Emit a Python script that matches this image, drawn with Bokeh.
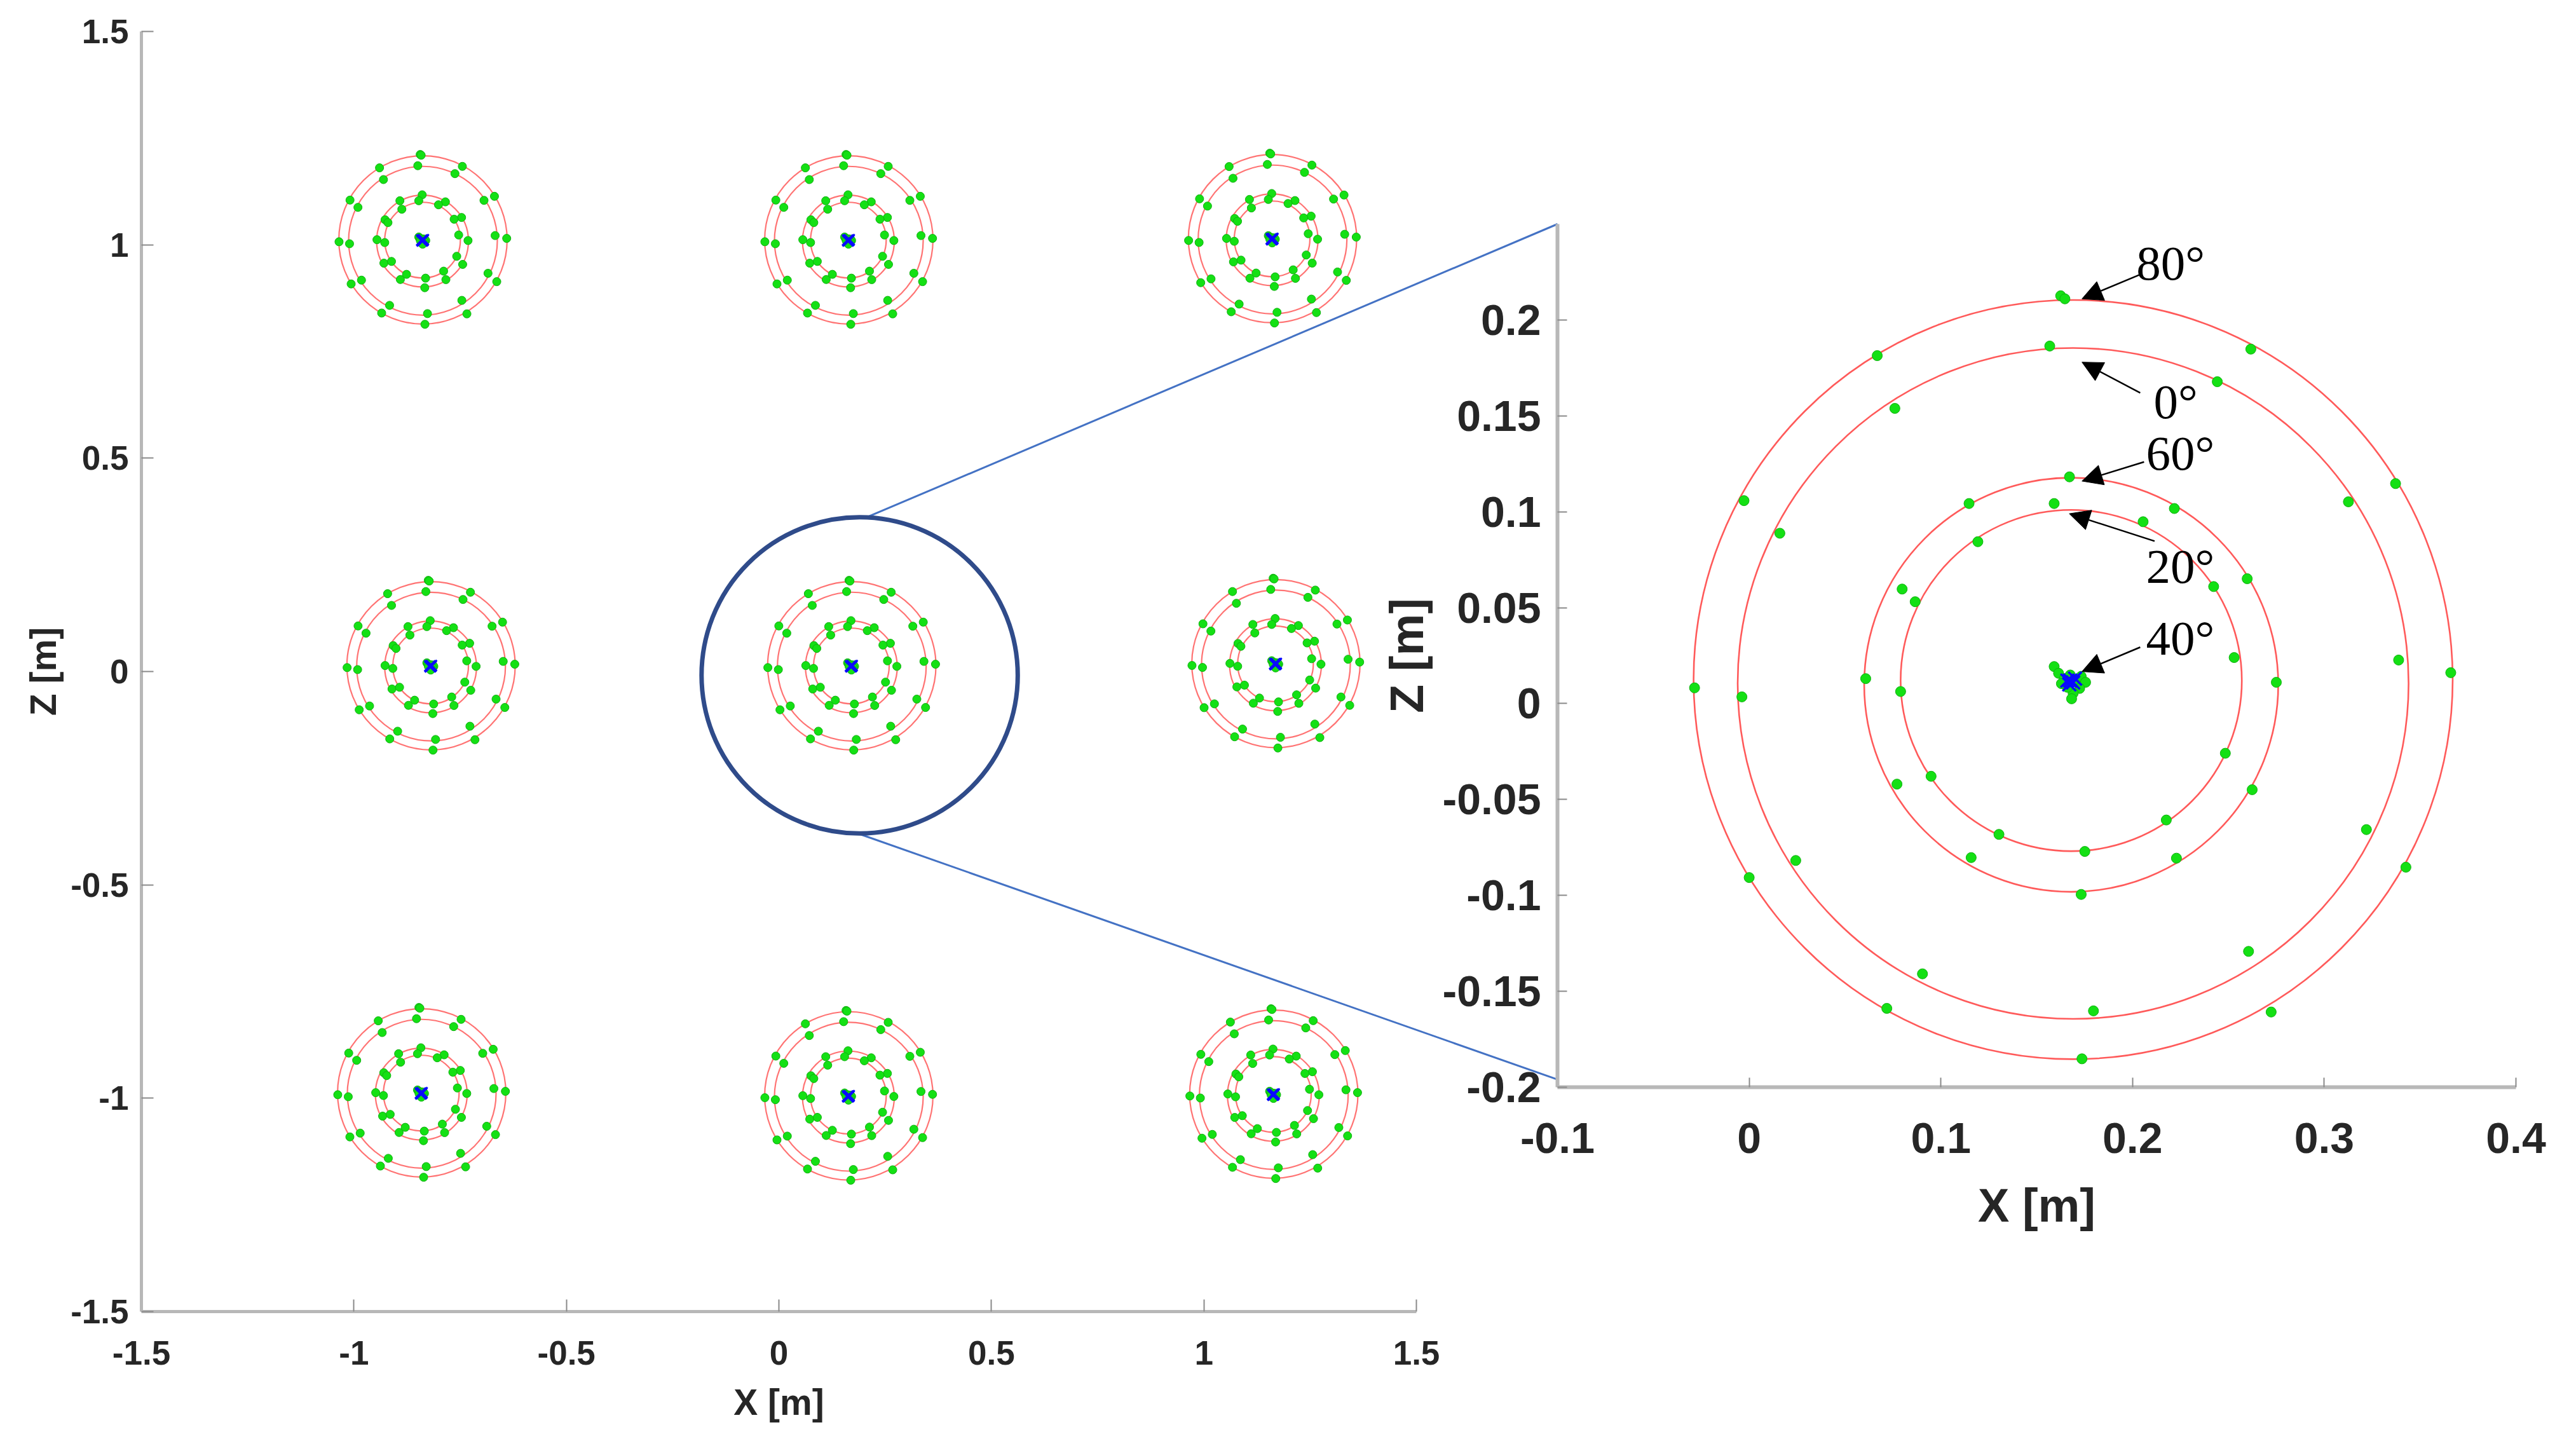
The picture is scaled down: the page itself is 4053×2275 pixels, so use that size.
import numpy as np
from bokeh.plotting import figure
from bokeh.models import Range1d, LinearAxis, Arrow, NormalHead, ColumnDataSource, FixedTicker
from bokeh.core.properties import value
from bokeh.embed import file_html
from bokeh.resources import INLINE

# ---------------- data ----------------
# centres of the nine target groups in the overview [m]
group_x = [-0.839, 0.163, 1.160, -0.820, 0.170, 1.168, -0.842, 0.163, 1.163]
group_z = [1.011, 1.011, 1.014, 0.013, 0.013, 0.018, -0.988, -0.995, -0.991]

# zoomed (centre) group: fitted circles per tilt angle
ring_angle = ["80°", "0°", "60°", "20°"]
ring_r = [0.198, 0.175, 0.108, 0.089]
ring_x = [0.169, 0.169, 0.168, 0.168]
ring_z = [0.0125, 0.0105, 0.0098, 0.0120]

# measured points of the zoomed group, per tilt angle
p80_x = [0.1625, 0.1647, 0.2617, 0.3372, 0.3660, 0.3426, 0.2723, 0.1736, 0.0718, 0.0000, -0.0285, -0.0027, 0.0668]
p80_z = [0.2126, 0.2110, 0.1848, 0.1147, 0.0161, -0.0853, -0.1608, -0.1852, -0.1589, -0.0907, 0.0082, 0.1058, 0.1814]
p0_x = [0.1568, 0.2442, 0.3126, 0.3388, 0.3220, 0.2605, 0.1796, 0.0904, 0.0243, -0.0038, 0.0160, 0.0760]
p0_z = [0.1864, 0.1678, 0.1052, 0.0227, -0.0657, -0.1292, -0.1602, -0.1409, -0.0818, 0.0035, 0.0888, 0.1539]
p60_x = [0.1671, 0.2218, 0.2598, 0.2750, 0.2624, 0.2229, 0.1732, 0.1158, 0.0771, 0.0608, 0.0798, 0.1147]
p60_z = [0.1182, 0.1017, 0.0651, 0.0111, -0.0449, -0.0806, -0.0995, -0.0803, -0.0420, 0.0130, 0.0597, 0.1043]
p20_x = [0.1591, 0.2055, 0.2423, 0.2530, 0.2484, 0.2176, 0.1751, 0.1303, 0.0949, 0.0790, 0.0866, 0.1193]
p20_z = [0.1043, 0.0948, 0.0610, 0.0240, -0.0259, -0.0607, -0.0771, -0.0682, -0.0379, 0.0063, 0.0531, 0.0844]
p40_x = [0.1591, 0.1614, 0.1645, 0.1675, 0.1705, 0.1732, 0.1755, 0.1724, 0.1690, 0.1660, 0.1629, 0.1682]
p40_z = [0.0193, 0.0158, 0.0130, 0.0149, 0.0120, 0.0142, 0.0111, 0.0079, 0.0054, 0.0085, 0.0104, 0.0025]

# estimated target centres (blue crosses), zoomed group
ctr_x = [0.1675, 0.1690, 0.1670, 0.1700, 0.1660]
ctr_z = [0.0120, 0.0110, 0.0100, 0.0130, 0.0120]

# angle annotations in the zoomed view
ann_text = ["80°", "0°", "60°", "20°", "40°"]
ann_x = [0.202, 0.211, 0.207, 0.207, 0.207]
ann_z = [0.2297, 0.1573, 0.1305, 0.0717, 0.0341]
arr_x0 = [0.204, 0.204, 0.206, 0.2115, 0.204]
arr_z0 = [0.2237, 0.162, 0.126, 0.0847, 0.0294]
arr_x1 = [0.1736, 0.1736, 0.1736, 0.1670, 0.1736]
arr_z1 = [0.211, 0.178, 0.116, 0.099, 0.0167]

# zoom call-out: circle in overview, lines to zoomed axes corners
zoom_cx, zoom_cz, zoom_r = 0.190, -0.009, 0.372
callout_x0 = [0.208, 0.190]
callout_z0 = [0.362, -0.381]
callout_zx1 = [-0.1, -0.1]
callout_zz1 = [0.25, -0.196]

ov_ticks = [-1.5, -1, -0.5, 0, 0.5, 1, 1.5]
zx_ticks = [-0.1, 0, 0.1, 0.2, 0.3, 0.4]
zz_ticks = [-0.2, -0.15, -0.1, -0.05, 0, 0.05, 0.1, 0.15, 0.2]

# ---------------- layout (page pixels) ----------------
FX0, FY0 = 8, 8
FW, FH = 4030, 2255
FX1, FY1 = FX0 + FW, FY0 + FH


def span(pa, va, pb, vb, p_lo, p_hi):
    """value at pixel p_lo and p_hi for a linear mapping through (pa,va),(pb,vb)"""
    k = (vb - va) / (pb - pa)
    return va + (p_lo - pa) * k, va + (p_hi - pa) * k


# overview axes: x -1.5..1.5 at px 230..2236, z 1.5..-1.5 at px 57..2071
ox0, ox1 = span(230, -1.5, 2236, 1.5, FX0, FX1)
oy0, oy1 = span(2071, -1.5, 57, 1.5, FY1, FY0)
# zoomed axes: x -0.1..0.4 at px 2458..3966, z 0.25..-0.2 at px 360..1718
zx0, zx1 = span(2458, -0.1, 3966, 0.4, FX0, FX1)
zy0, zy1 = span(1718, -0.2, 360, 0.25, FY1, FY0)

RING = "#ff5a5a"
GREEN = "#14e014"
GREEN_EDGE = "#0fb00f"
BLUE = "#0a0aff"
FONT = "Liberation Sans"

p = figure(frame_width=FW, frame_height=FH,
           x_range=Range1d(ox0, ox1), y_range=Range1d(oy0, oy1),
           x_axis_location=None, y_axis_location=None,
           output_backend="svg", toolbar_location=None, min_border=0)
p.extra_x_ranges = {"zx": Range1d(zx0, zx1)}
p.extra_y_ranges = {"zy": Range1d(zy0, zy1)}
p.grid.visible = False
p.outline_line_color = None
p.background_fill_color = "white"
p.border_fill_color = "white"


def style_axis(ax, ticks, tick_font, tick_in, line_w, lbl_standoff, label, label_font, label_standoff):
    ax.ticker = FixedTicker(ticks=ticks)
    ax.major_label_overrides = {float(t): f"{t:g}" for t in ticks}
    ax.minor_tick_line_color = None
    ax.major_tick_in = tick_in
    ax.major_tick_out = 0
    ax.major_tick_line_color = "#8a8a8a"
    ax.major_tick_line_width = 2
    ax.axis_line_color = "#b8b8b8"
    ax.axis_line_width = line_w
    ax.major_label_text_font = FONT
    ax.major_label_text_font_style = "bold"
    ax.major_label_text_font_size = tick_font
    ax.major_label_text_color = "#262626"
    ax.major_label_standoff = lbl_standoff
    ax.axis_label = label
    ax.axis_label_text_font = FONT
    ax.axis_label_text_font_style = "bold"
    ax.axis_label_text_font_size = label_font
    ax.axis_label_text_color = "#262626"
    ax.axis_label_standoff = label_standoff


ovx = LinearAxis(fixed_location=-1.5, bounds=(-1.5, 1.5))
ovy = LinearAxis(fixed_location=-1.5, bounds=(-1.5, 1.5))
style_axis(ovx, ov_ticks, "53px", 19, 5, 46, "X [m]", "57px", 24)
style_axis(ovy, ov_ticks, "53px", 19, 5, 20, "Z [m]", "57px", 8)
p.add_layout(ovx, "below")
p.add_layout(ovy, "left")

zax = LinearAxis(x_range_name="zx", y_range_name="zy", fixed_location=-0.2, bounds=(-0.1, 0.4))
zay = LinearAxis(x_range_name="zx", y_range_name="zy", fixed_location=-0.1, bounds=(-0.2, 0.25))
style_axis(zax, zx_ticks, "68px", 15, 6, 56, "X [m]", "74px", 38)
style_axis(zay, zz_ticks, "68px", 15, 6, 26, "Z [m]", "74px", 12)
p.add_layout(zax, "below")
p.add_layout(zay, "left")

# ---------------- overview: nine groups ----------------
ref_x, ref_z = ctr_x[0], ctr_z[0]
all_px = p80_x + p0_x + p60_x + p20_x + p40_x
all_pz = p80_z + p0_z + p60_z + p20_z + p40_z
rel_px = np.array(all_px) - ref_x
rel_pz = np.array(all_pz) - ref_z

ov_ring_x, ov_ring_z, ov_ring_r = [], [], []
ov_pt_x, ov_pt_z = [], []
ov_ctr_x, ov_ctr_z = [], []
for gx, gz in zip(group_x, group_z):
    for rx, rz, rr in zip(ring_x, ring_z, ring_r):
        ov_ring_x.append(gx + rx - ref_x)
        ov_ring_z.append(gz + rz - ref_z)
        ov_ring_r.append(rr)
    ov_pt_x.extend(gx + rel_px)
    ov_pt_z.extend(gz + rel_pz)
    for cx, cz in zip(ctr_x, ctr_z):
        ov_ctr_x.append(gx + cx - ref_x)
        ov_ctr_z.append(gz + cz - ref_z)

p.circle(x=ov_ring_x, y=ov_ring_z, radius=ov_ring_r, fill_color=None,
         line_color=RING, line_width=2.2, line_alpha=0.85)
p.scatter(x=ov_pt_x, y=ov_pt_z, marker="circle", size=13, fill_color=GREEN,
          line_color=GREEN_EDGE, line_width=1)
p.scatter(x=ov_ctr_x, y=ov_ctr_z, marker="x", size=24, line_color=BLUE, line_width=3)

# ---------------- zoomed view ----------------
p.circle(x=ring_x, y=ring_z, radius=ring_r, fill_color=None, line_color=RING,
         line_width=2.6, x_range_name="zx", y_range_name="zy")
p.scatter(x=all_px, y=all_pz, marker="circle", size=16, fill_color=GREEN,
          line_color=GREEN_EDGE, line_width=1, x_range_name="zx", y_range_name="zy")
p.scatter(x=ctr_x, y=ctr_z, marker="x", size=30, line_color=BLUE, line_width=3.5,
          x_range_name="zx", y_range_name="zy")

arrow_src = ColumnDataSource(dict(x0=arr_x0, y0=arr_z0, x1=arr_x1, y1=arr_z1))
p.add_layout(Arrow(end=NormalHead(size=32, fill_color="black", line_color="black"),
                   x_start="x0", y_start="y0", x_end="x1", y_end="y1", source=arrow_src,
                   line_color="black", line_width=2.5,
                   x_range_name="zx", y_range_name="zy"))
p.text(x=ann_x, y=ann_z, text=ann_text, text_font=value("Liberation Serif"),
       text_font_size="77px", text_align="left", text_baseline="middle",
       text_color="black", x_range_name="zx", y_range_name="zy")

# ---------------- call-out ----------------
def zoom_to_overview(zx, zz):
    sx = (zx - zx0) / (zx1 - zx0)
    sy = (zz - zy0) / (zy1 - zy0)
    return ox0 + sx * (ox1 - ox0), oy0 + sy * (oy1 - oy0)

end_pts = [zoom_to_overview(a, b) for a, b in zip(callout_zx1, callout_zz1)]
p.segment(x0=callout_x0, y0=callout_z0, x1=[e[0] for e in end_pts], y1=[e[1] for e in end_pts],
          line_color="#4472c4", line_width=3)
p.circle(x=[zoom_cx], y=[zoom_cz], radius=zoom_r, fill_color=None,
         line_color="#2f4b8a", line_width=7)

open("out.html", "w").write(file_html(p, INLINE))
